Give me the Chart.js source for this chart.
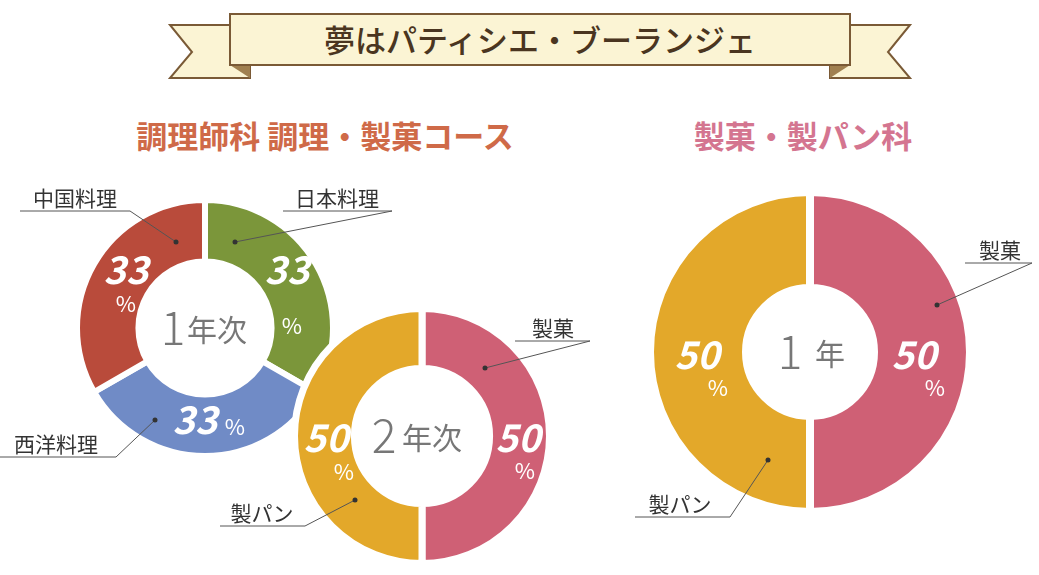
<!DOCTYPE html>
<html><head><meta charset="utf-8">
<script src="https://cdn.jsdelivr.net/npm/chart.js@4"></script>
<style>
body{margin:0;background:#fff;font-family:"Noto Sans CJK JP","Noto Sans",sans-serif}
#wrap{position:relative;width:1039px;height:575px;overflow:hidden}
canvas,svg{position:absolute;left:0;top:0}
.h{position:absolute;top:112px;font-weight:bold;font-size:31px;transform:translateX(-50%);white-space:nowrap}
</style></head><body>
<div id="wrap">
<svg width="1039" height="575">
  <polygon points="170,25 250,25 250,78 170,78 192,52" fill="#fbf4d4" stroke="#7a5a36" stroke-width="2"/>
  <polygon points="910,25 830,25 830,78 910,78 888,52" fill="#fbf4d4" stroke="#7a5a36" stroke-width="2"/>
  <polygon points="230,65 250,78 250,65" fill="#a08050"/>
  <polygon points="850,65 830,78 830,65" fill="#a08050"/>
  <rect x="230" y="14" width="620" height="51" fill="#fbf4d4" stroke="#7a5a36" stroke-width="2"/>
  <text x="540" y="52" text-anchor="middle" font-size="31" font-weight="500" fill="#4a3520" font-family="Noto Sans CJK JP">夢はパティシエ・ブーランジェ</text>
</svg>
<div class="h" style="left:325px;color:#cf6a48">調理師科 調理・製菓コース</div>
<div class="h" style="left:803px;color:#d47590">製菓・製パン科</div>
<canvas id="c1" width="1039" height="575"></canvas>
<canvas id="c2" width="1039" height="575"></canvas>
<canvas id="c3" width="1039" height="575"></canvas>
</div>
<script>
const course1Labels = ["日本料理", "西洋料理", "中国料理"];
const course1Values = [33, 33, 33];
const course2Labels = ["製菓", "製パン"];
const course2Values = [50, 50];
const course3Labels = ["製菓", "製パン"];
const course3Values = [50, 50];

const RED = "#b94b3b", GREEN = "#7b963a", BLUE = "#708bc6", PINK = "#cf6075", YELLOW = "#e3a82a";
const FONT = '"Noto Sans CJK JP","Noto Sans",sans-serif';

// draws leader lines, category names, percentages and the center text
function overlay(cfg) {
  return {
    id: "overlay",
    afterDraw(chart) {
      const ctx = chart.ctx;
      ctx.save();
      cfg.leaders.forEach(l => {
        ctx.strokeStyle = "#555"; ctx.lineWidth = 1;
        ctx.beginPath();
        ctx.moveTo(l.x0, l.y); ctx.lineTo(l.x1, l.y); ctx.lineTo(l.dx, l.dy);
        ctx.stroke();
        ctx.fillStyle = "#333";
        ctx.beginPath(); ctx.arc(l.dx, l.dy, 2.5, 0, Math.PI * 2); ctx.fill();
        ctx.font = "21px " + FONT; ctx.textAlign = "center"; ctx.textBaseline = "alphabetic";
        ctx.fillText(l.text, l.tx, l.y - 5);
      });
      const data = chart.data.datasets[0].data;
      cfg.pcts.forEach((p, i) => {
        ctx.fillStyle = "#fff";
        ctx.font = "italic bold 38px " + FONT; ctx.textAlign = "center"; ctx.textBaseline = "middle";
        ctx.fillText(String(data[i]), p.x, p.y);
        ctx.font = "22px " + FONT;
        ctx.fillText("%", p.px, p.py);
      });
      const m = chart.getDatasetMeta(0).data[0];
      ctx.fillStyle = "#777"; ctx.textBaseline = "middle"; ctx.textAlign = "center";
      ctx.font = "300 46px " + FONT;
      ctx.fillText(cfg.center[0], m.x - cfg.center[2], m.y);
      ctx.font = "30px " + FONT;
      ctx.fillText(cfg.center[1], m.x + cfg.center[3], m.y + 2);
      ctx.restore();
    }
  };
}

function donut(id, labels, values, colors, pad, cutout, border, cfg) {
  new Chart(document.getElementById(id), {
    type: "doughnut",
    data: { labels: labels, datasets: [{ data: values, backgroundColor: colors, borderColor: "#fff", borderWidth: border }] },
    options: {
      responsive: false, animation: false, cutout: cutout,
      layout: { padding: pad },
      plugins: { legend: { display: false }, tooltip: { enabled: false } }
    },
    plugins: [overlay(cfg)]
  });
}

donut("c1", course1Labels, course1Values, [GREEN, BLUE, RED],
  { left: 74, right: 703, top: 197, bottom: 116 }, "52%", 6, {
  leaders: [
    { text: "中国料理", tx: 75, x0: 20, x1: 130, y: 211, dx: 176, dy: 242 },
    { text: "日本料理", tx: 337, x0: 283, x1: 392, y: 211, dx: 235, dy: 242 },
    { text: "西洋料理", tx: 56, x0: 0, x1: 116, y: 457, dx: 155, dy: 420 }
  ],
  pcts: [
    { x: 287, y: 270, px: 292, py: 326 },
    { x: 195, y: 420, px: 235, py: 427 },
    { x: 126, y: 270, px: 126, py: 304 }
  ],
  center: ["1", "年次", 32, 12]
});

donut("c2", course2Labels, course2Values, [PINK, YELLOW],
  { left: 291, right: 486, top: 305, bottom: 8 }, "53%", 7, {
  leaders: [
    { text: "製菓", tx: 553, x0: 515, x1: 590, y: 341, dx: 485, dy: 368 },
    { text: "製パン", tx: 262, x0: 220, x1: 305, y: 526, dx: 355, dy: 500 }
  ],
  pcts: [
    { x: 518, y: 438, px: 525, py: 471 },
    { x: 326, y: 438, px: 344, py: 472 }
  ],
  center: ["2", "年次", 38, 10]
});

donut("c3", course3Labels, course3Values, [PINK, YELLOW],
  { left: 646, right: 65, top: 188, bottom: 59 }, "40%", 8, {
  leaders: [
    { text: "製菓", tx: 1000, x0: 965, x1: 1032, y: 263, dx: 937, dy: 305 },
    { text: "製パン", tx: 680, x0: 635, x1: 730, y: 517, dx: 768, dy: 460 }
  ],
  pcts: [
    { x: 914, y: 355, px: 935, py: 388 },
    { x: 697, y: 355, px: 718, py: 388 }
  ],
  center: ["1", "年", 20, 20]
});
</script>
</body></html>
